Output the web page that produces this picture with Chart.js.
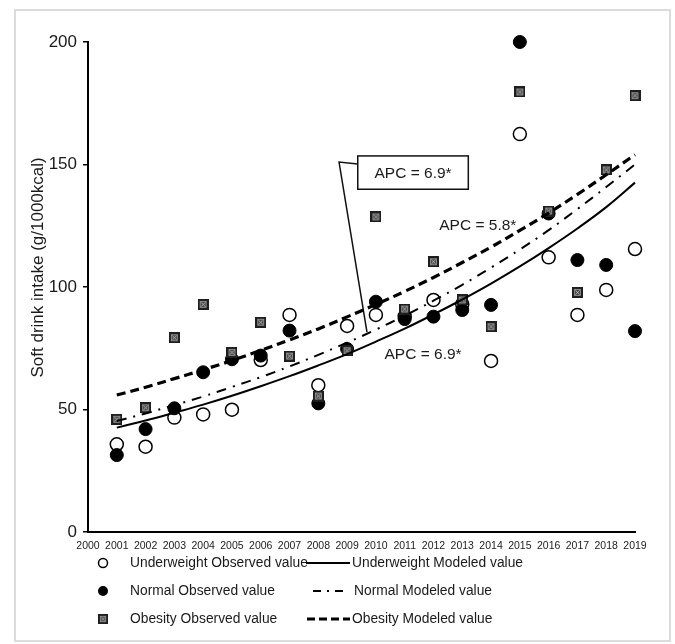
<!DOCTYPE html>
<html>
<head>
<meta charset="utf-8">
<script src="https://cdn.jsdelivr.net/npm/chart.js@4.4.1/dist/chart.umd.min.js"></script>
<style>
  html, body { margin: 0; padding: 0; background: #fff; }
  #wrap { position: relative; width: 675px; height: 644px; }
  #frame { position: absolute; left: 14px; top: 9px; width: 653px; height: 629px; border: 2px solid #dcdcdc; }
  #chart { position: absolute; left: 0; top: 0; }
</style>
</head>
<body>
<div id="wrap">
  <div id="frame"></div>
  <canvas id="chart" width="675" height="644"></canvas>
</div>
<script>
// values
var years = [2001, 2002, 2003, 2004, 2005, 2006, 2007, 2008, 2009, 2010,
             2011, 2012, 2013, 2014, 2015, 2016, 2017, 2018, 2019];
var underweightObs = [35.8, 34.8, 46.7, 48.0, 49.9, 70.2, 88.6, 59.9, 84.1, 88.6,
                      88.0, 94.7, 93.0, 69.8, 162.4, 112.1, 88.6, 98.8, 115.5];
var normalObs = [31.4, 42.0, 50.5, 65.2, 70.5, 72.0, 82.2, 52.5, 74.7, 94.0,
                 86.9, 87.9, 90.6, 92.7, 200.0, 130.0, 111.0, 109.0, 82.0];
var obesityObs = [46.0, 50.7, 79.3, 92.9, 73.3, 85.6, 71.8, 55.5, 74.0, 128.6,
                  91.0, 110.3, 94.7, 83.8, 179.6, 131.0, 97.8, 147.8, 178.1];
var underweightModel = [42.6, 45.5, 48.7, 52.0, 55.6, 59.5, 63.6, 68.0, 72.6, 77.7,
                        83.0, 88.8, 94.9, 101.4, 108.4, 115.9, 123.9, 132.6, 142.6];
var normalModel = [45.3, 48.4, 51.8, 55.3, 59.2, 63.2, 67.6, 72.3, 77.3, 82.6,
                   88.3, 94.4, 100.9, 107.9, 115.3, 123.2, 131.8, 140.8, 150.0];
var obesityModel = [55.9, 59.1, 62.6, 66.2, 70.0, 74.1, 78.4, 82.9, 87.8, 92.9,
                    98.2, 103.9, 110.0, 116.3, 123.1, 130.2, 137.8, 145.8, 154.0];
var xTicks = [2000, 2019];
var yTicks = [0, 200, 50];

function pts(vals) {
    return years.map(function (y, i) { return {x: y, y: vals[i]}; });
}

// hatched square marker
var sq = document.createElement('canvas');
sq.width = 11; sq.height = 11;
(function () {
    var c = sq.getContext('2d');
    c.fillStyle = '#1e1e1e';
    c.fillRect(0, 0, 11, 11);
    c.fillStyle = '#4a4a4a';
    c.fillRect(2, 2, 7, 7);
    c.strokeStyle = '#c8c8c8';
    c.lineWidth = 0.8;
    c.beginPath();
    c.moveTo(3.5, 3.5); c.lineTo(7.5, 7.5);
    c.moveTo(7.5, 3.5); c.lineTo(3.5, 7.5);
    c.stroke();
    c.strokeStyle = '#9a9a9a';
    c.strokeRect(2.5, 2.5, 6, 6);
})();

var FONT = "'Liberation Sans', Arial, sans-serif";

var notes = {
    id: 'notes',
    afterDatasetsDraw: function (chart) {
        var c = chart.ctx, xs = chart.scales.x, ys = chart.scales.y;
        var px = function (v) { return xs.getPixelForValue(v); };
        var py = function (v) { return ys.getPixelForValue(v); };
        c.save();
        // y axis title
        c.save();
        c.translate(38, py(108));
        c.rotate(-Math.PI / 2);
        c.font = '17px ' + FONT;
        c.fillStyle = '#1a1a1a';
        c.textAlign = 'center';
        c.textBaseline = 'middle';
        c.fillText('Soft drink intake (g/1000kcal)', 0, 0);
        c.restore();

        c.fillStyle = '#1a1a1a';
        c.font = '15.5px ' + FONT;
        c.textBaseline = 'middle';
        c.textAlign = 'left';
        c.fillText('APC = 6.9*', px(2010.3), py(72.2));
        c.fillText('APC = 5.8*', px(2012.2), py(124.9));
        // callout box
        var bx0 = px(2009.37), bx1 = px(2013.21), by0 = py(153.5), by1 = py(139.9);
        c.strokeStyle = '#111';
        c.lineWidth = 1.5;
        c.fillStyle = '#fff';
        c.fillRect(bx0, by0, bx1 - bx0, by1 - by0);
        c.strokeRect(bx0, by0, bx1 - bx0, by1 - by0);
        c.beginPath();
        c.moveTo(bx0, py(150.2));
        c.lineTo(px(2008.72), py(151.0));
        c.lineTo(px(2009.69), py(81.6));
        c.stroke();
        c.fillStyle = '#1a1a1a';
        c.textAlign = 'center';
        c.fillText('APC = 6.9*', (bx0 + bx1) / 2, (by0 + by1) / 2 + 1);
        c.restore();
    },
    afterDraw: function (chart) {
        var c = chart.ctx;
        var rows = [563, 591, 619];
        c.save();
        c.font = '13.8px ' + FONT;
        c.textBaseline = 'middle';
        c.textAlign = 'left';
        // markers
        c.lineWidth = 1.5;
        c.strokeStyle = '#000';
        c.fillStyle = '#fff';
        c.beginPath(); c.arc(103, rows[0], 4.5, 0, Math.PI * 2); c.fill(); c.stroke();
        c.fillStyle = '#000';
        c.beginPath(); c.arc(103, rows[1], 5, 0, Math.PI * 2); c.fill();
        c.drawImage(sq, 98, rows[2] - 5, 10, 10);
        c.fillStyle = '#1a1a1a';
        c.fillText('Underweight Observed value', 130, rows[0]);
        c.fillText('Normal Observed value', 130, rows[1]);
        c.fillText('Obesity Observed value', 130, rows[2]);
        // line samples
        c.strokeStyle = '#000';
        c.lineWidth = 2;
        c.setLineDash([]);
        c.beginPath(); c.moveTo(306, rows[0]); c.lineTo(350, rows[0]); c.stroke();
        c.setLineDash([8, 6, 2, 6]);
        c.beginPath(); c.moveTo(313, rows[1]); c.lineTo(347, rows[1]); c.stroke();
        c.lineWidth = 3;
        c.setLineDash([8, 4]);
        c.beginPath(); c.moveTo(307, rows[2]); c.lineTo(350, rows[2]); c.stroke();
        c.setLineDash([]);
        c.fillText('Underweight Modeled value', 352, rows[0]);
        c.fillText('Normal Modeled value', 354, rows[1]);
        c.fillText('Obesity Modeled value', 352, rows[2]);
        c.restore();
    }
};

new Chart(document.getElementById('chart'), {
    type: 'scatter',
    data: {
        datasets: [
            {label: 'Underweight Observed value', data: pts(underweightObs), showLine: false,
             pointStyle: 'circle', pointRadius: 6.5, pointBackgroundColor: '#fff',
             pointBorderColor: '#000', pointBorderWidth: 1.5, order: 3, clip: false},
            {label: 'Normal Observed value', data: pts(normalObs), showLine: false,
             pointStyle: 'circle', pointRadius: 6.5, pointBackgroundColor: '#000',
             pointBorderColor: '#000', pointBorderWidth: 1, order: 2, clip: false},
            {label: 'Obesity Observed value', data: pts(obesityObs), showLine: false,
             pointStyle: sq, pointRadius: 6, order: 1, clip: false},
            {label: 'Underweight Modeled value', data: pts(underweightModel), showLine: true,
             pointRadius: 0, borderColor: '#000', borderWidth: 2, tension: 0.4, order: 0, clip: false},
            {label: 'Normal Modeled value', data: pts(normalModel), showLine: true,
             pointRadius: 0, borderColor: '#000', borderWidth: 2, borderDash: [10, 7, 2, 7],
             tension: 0.4, order: 0, clip: false},
            {label: 'Obesity Modeled value', data: pts(obesityModel), showLine: true,
             pointRadius: 0, borderColor: '#000', borderWidth: 3.2, borderDash: [9, 5],
             tension: 0.4, order: 0, clip: false}
        ]
    },
    options: {
        responsive: false,
        animation: false,
        layout: {padding: {top: 42, right: 40, left: 0, bottom: 0}},
        plugins: {legend: {display: false}, tooltip: {enabled: false}},
        scales: {
            x: {
                type: 'linear',
                min: xTicks[0], max: xTicks[1],
                afterFit: function (s) { s.height = 112; },
                border: {color: '#000', width: 2},
                grid: {display: false},
                ticks: {
                    stepSize: 1, padding: 0, color: '#222',
                    maxRotation: 0, minRotation: 0, autoSkip: false,
                    font: {size: 10.5, family: FONT},
                    callback: function (v) { return String(v); }
                }
            },
            y: {
                min: yTicks[0], max: yTicks[1],
                afterFit: function (s) { s.width = 88; },
                border: {color: '#000', width: 2},
                grid: {drawOnChartArea: false, drawTicks: true, tickLength: 5, color: '#000', lineWidth: 1.5},
                ticks: {stepSize: yTicks[2], padding: 6, color: '#1a1a1a', font: {size: 17, family: FONT}}
            }
        }
    },
    plugins: [notes]
});
</script>
</body>
</html>
